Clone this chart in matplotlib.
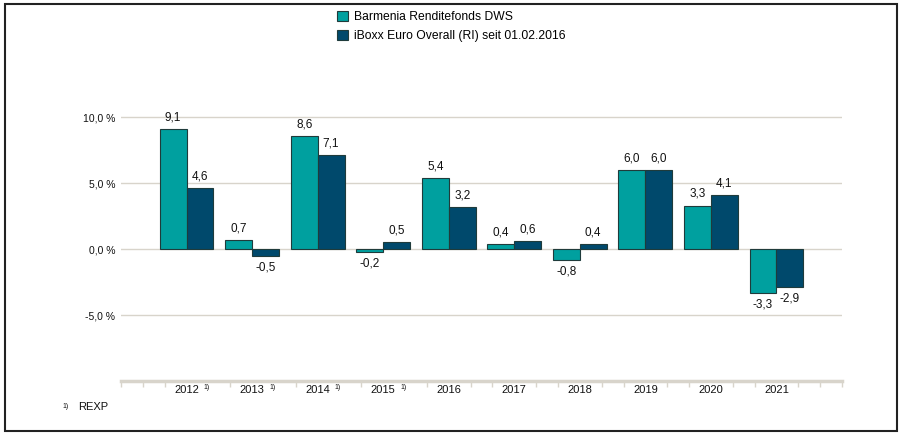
import numpy as np
import matplotlib.pyplot as plt
from matplotlib.patches import Rectangle

years = ['2012', '2013', '2014', '2015', '2016', '2017', '2018', '2019', '2020', '2021']
rexp_years = ['2012', '2013', '2014', '2015']
fund = [9.1, 0.7, 8.6, -0.2, 5.4, 0.4, -0.8, 6.0, 3.3, -3.3]
index = [4.6, -0.5, 7.1, 0.5, 3.2, 0.6, 0.4, 6.0, 4.1, -2.9]
series_names = ['Barmenia Renditefonds DWS', 'iBoxx Euro Overall (RI) seit 01.02.2016']
yticks = [-5, 0, 5, 10]

TEAL = '#00a09f'
NAVY = '#00496c'
GRID = '#d8d4cb'
TXT = '#111111'

plt.rcParams['font.family'] = ['Liberation Sans', 'DejaVu Sans']


def fmt(v):
    return f'{v:.1f}'.replace('.', ',')


def main():
    fig = plt.figure(figsize=(9.01, 4.33), dpi=100)
    ax = fig.add_axes([0.1343, 0.120, 0.8002, 0.762])

    x = np.arange(len(years))
    w = 0.41
    b1 = ax.bar(x - w / 2, fund, w, color=TEAL, edgecolor='#1f3b3b', linewidth=0.8,
                label=series_names[0], zorder=3)
    b2 = ax.bar(x + w / 2, index, w, color=NAVY, edgecolor='#1f3b3b', linewidth=0.8,
                label=series_names[1], zorder=3)

    # value labels above / below the bars
    for bars, vals in [(b1, fund), (b2, index)]:
        for rect, v in zip(bars, vals):
            cx = rect.get_x() + rect.get_width() / 2
            off, va = (4, 'bottom') if v >= 0 else (-4, 'top')
            ax.annotate(fmt(v), (cx, v), xytext=(0, off), textcoords='offset points',
                        ha='center', va=va, fontsize=8.5, color=TXT)

    ax.set_xlim(-1, 10)
    ax.set_ylim(-10, 15)
    for s in ['top', 'right', 'left']:
        ax.spines[s].set_visible(False)
    ax.spines['bottom'].set_color(GRID)
    ax.spines['bottom'].set_linewidth(2.5)

    ax.set_yticks(yticks)
    ax.set_yticklabels([fmt(t) + ' %' for t in yticks], fontsize=7.5, color=TXT)
    ax.tick_params(axis='y', length=0, pad=4)
    for t in yticks:
        ax.axhline(t, color=GRID, lw=1.0, zorder=1)

    # small ticks along the category axis
    tpos = [-1, -2 / 3, -1 / 3]
    for i in range(len(years)):
        if years[i] not in rexp_years:
            tpos.append(i + 1 / 3)
        tpos.append(i + 2 / 3)
    tpos.append(10)
    ax.set_xticks(tpos)
    ax.set_xticklabels([])
    ax.tick_params(axis='x', length=4, width=1, color=GRID, direction='out')

    for i, yr in enumerate(years):
        ax.annotate(yr, (i, -10), xytext=(0, -2.5), textcoords='offset points',
                    ha='center', va='top', fontsize=8, color=TXT)
        if yr in rexp_years:
            ax.annotate('1)', (i + 0.31, -10), xytext=(0, -2), textcoords='offset points',
                        ha='center', va='top', fontsize=5, color=TXT)

    ax.legend(loc='upper left', bbox_to_anchor=(0.362, 1.0), bbox_transform=fig.transFigure,
              frameon=False, fontsize=8.7, handlelength=0.9, handleheight=0.9,
              handletextpad=0.5, labelspacing=0.6, borderaxespad=0.5)

    fig.text(62 / 901, 1 - 407 / 433, '1)', fontsize=5, va='center', ha='left', color=TXT)
    fig.text(78 / 901, 1 - 407 / 433, 'REXP', fontsize=8, va='center', ha='left', color=TXT)

    fig.patches.append(Rectangle((5 / 901, 2 / 433), 892 / 901, 427 / 433,
                                 transform=fig.transFigure, fill=False,
                                 edgecolor='#222222', lw=1.5))

    fig.savefig('out.png', dpi=100)


if __name__ == '__main__':
    main()
